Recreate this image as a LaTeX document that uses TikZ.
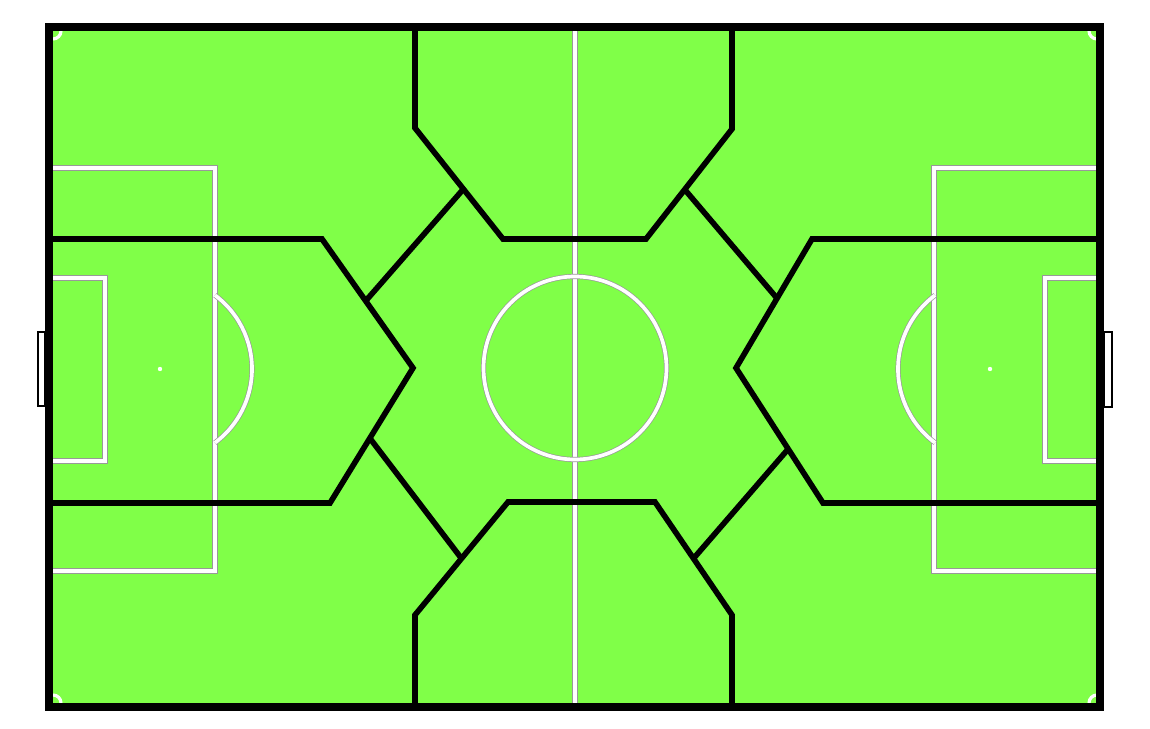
\documentclass[tikz,border=0pt]{standalone}
\usepackage{xcolor}
\usetikzlibrary{calc}
\definecolor{pitchgreen}{RGB}{128,255,72}

\begin{document}
\begin{tikzpicture}[x=0.02cm,y=-0.02cm,
	pitchline/.style={draw=gray!80,double=white,double distance=2.1pt,line width=0.4pt},
	zoneline/.style={line width=3.2pt},
	frameline/.style={line width=5pt},
	goalline/.style={line width=1.6pt,fill=white}]
	\useasboundingbox (0,0) rectangle (1150,729);
	
	% grass
	\fill[pitchgreen] (49,27) rectangle (1100,707);
	
	% pitch markings
	\draw[pitchline] (575,31) -- (575,703);
	\draw[pitchline] (575,368) circle (91.5);
	\draw[pitchline] (53,168) -- (215,168) -- (215,571) -- (53,571);
	\draw[pitchline] (53,278) -- (105,278) -- (105,461) -- (53,461);
	\draw[pitchline] (1097,168) -- (934,168) -- (934,571) -- (1097,571);
	\draw[pitchline] (1097,278) -- (1045,278) -- (1045,461) -- (1097,461);
	\draw[pitchline] (160,369) ++(-53.3:92) arc[start angle=-53.3,end angle=53.3,radius=92];
	\draw[pitchline] (990,369) ++(126.7:92) arc[start angle=126.7,end angle=233.3,radius=92];
	\fill[white] (160,369) circle (2.2);
	\fill[white] (990,369) circle (2.2);
	\foreach \cx/\cy/\a in {53/31/0, 1097/31/90, 1097/703/180, 53/703/270}
		\draw[white,line width=1.8pt] (\cx,\cy) ++(\a:8) arc[start angle=\a,end angle=\a+90,radius=8];
	
	% zones
	\coordinate (T1) at (415,27);
	\coordinate (T2) at (415,128);
	\coordinate (T3) at (503,239);
	\coordinate (T4) at (646,239);
	\coordinate (T5) at (732,129);
	\coordinate (T6) at (732,27);
	\coordinate (B1) at (415,707);
	\coordinate (B2) at (415,615);
	\coordinate (B3) at (508,502);
	\coordinate (B4) at (655,502);
	\coordinate (B5) at (732,615);
	\coordinate (B6) at (732,707);
	\coordinate (L1) at (53,239);
	\coordinate (L2) at (322,239);
	\coordinate (L3) at (413,368);
	\coordinate (L4) at (330,503);
	\coordinate (L5) at (53,503);
	\coordinate (R1) at (1097,239);
	\coordinate (R2) at (812,239);
	\coordinate (R3) at (736,368);
	\coordinate (R4) at (823,503);
	\coordinate (R5) at (1097,503);
	
	\draw[zoneline] (T1) -- (T2) -- (T3) -- (T4) -- (T5) -- (T6);
	\draw[zoneline] (B1) -- (B2) -- (B3) -- (B4) -- (B5) -- (B6);
	\draw[zoneline] (L1) -- (L2) -- (L3) -- (L4) -- (L5);
	\draw[zoneline] (R1) -- (R2) -- (R3) -- (R4) -- (R5);
	
	% diagonals between zones
	\draw[zoneline] ($(T2)!0.55!(T3)$) -- ($(L2)!0.48!(L3)$);
	\draw[zoneline] ($(T4)!0.45!(T5)$) -- ($(R2)!0.46!(R3)$);
	\draw[zoneline] ($(B2)!0.5!(B3)$) -- ($(L3)!0.52!(L4)$);
	\draw[zoneline] ($(B4)!0.5!(B5)$) -- ($(R3)!0.6!(R4)$);
	
	% goals and frame
	\draw[goalline] (38,332) rectangle (45,406);
	\draw[goalline] (1104,332) rectangle (1112,407);
	\draw[frameline] (49,27) rectangle (1100,707);
\end{tikzpicture}
\end{document}
